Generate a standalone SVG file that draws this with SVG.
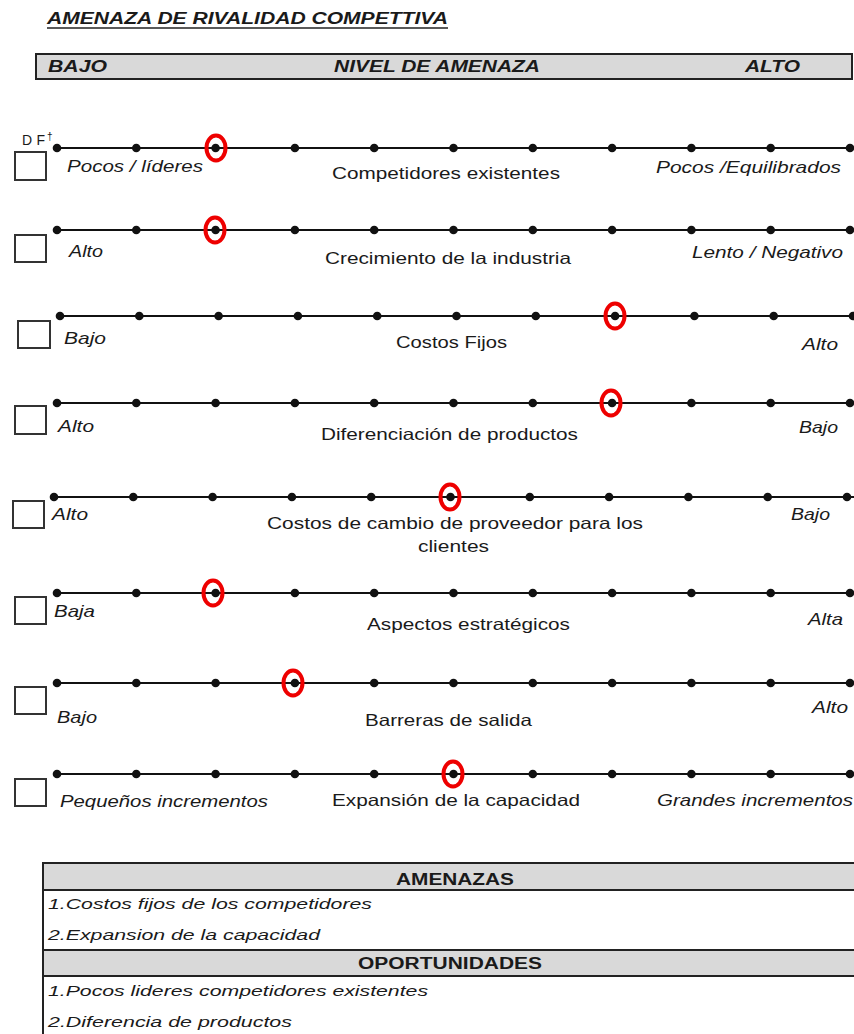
<svg xmlns="http://www.w3.org/2000/svg" width="854" height="1034" viewBox="0 0 854 1034">
<style>
text{font-family:"Liberation Sans",Arial,sans-serif;fill:#1a1a1a}
.it{font-style:italic;font-size:16.5px}
.md{font-size:16.5px}
.hb{font-weight:bold;font-style:italic;font-size:17px}
.tb{font-weight:bold;font-size:16px}
.ti{font-style:italic;font-size:15.5px}
.axis{stroke:#111;stroke-width:2}
.dot{fill:#111}
.sel{fill:none;stroke:#ee0000;stroke-width:4}
.box{fill:#fff;stroke:#333;stroke-width:2}
.gray{fill:#d9d9d9;stroke:#222;stroke-width:2}
</style>
<defs>
<g id="dots">
<circle cx="0" cy="0" r="4.3"/><circle cx="79.3" cy="0" r="4.3"/><circle cx="158.6" cy="0" r="4.3"/><circle cx="237.9" cy="0" r="4.3"/><circle cx="317.2" cy="0" r="4.3"/><circle cx="396.5" cy="0" r="4.3"/><circle cx="475.8" cy="0" r="4.3"/><circle cx="555.1" cy="0" r="4.3"/><circle cx="634.4" cy="0" r="4.3"/><circle cx="713.7" cy="0" r="4.3"/><circle cx="793" cy="0" r="4.3"/>
</g>
</defs>
<rect width="854" height="1034" fill="#fff"/>

<g id="title">
<text x="47" y="24" class="hb" style="font-size:16px" textLength="401" lengthAdjust="spacingAndGlyphs">AMENAZA DE RIVALIDAD COMPETTIVA</text>
<line x1="47" y1="28" x2="448" y2="28" stroke="#222" stroke-width="1.3"/>
</g>

<g id="header">
<rect x="36" y="54" width="816" height="25" class="gray"/>
<text x="48" y="72" class="hb" textLength="59" lengthAdjust="spacingAndGlyphs">BAJO</text>
<text x="334" y="72" class="hb" textLength="206" lengthAdjust="spacingAndGlyphs">NIVEL DE AMENAZA</text>
<text x="745" y="72" class="hb" textLength="55" lengthAdjust="spacingAndGlyphs">ALTO</text>
</g>

<g id="df">
<text x="22" y="145" style="font-size:14px" textLength="23" lengthAdjust="spacing">DF</text>
<text x="47" y="140" style="font-size:10px">†</text>
</g>

<g id="connectors">
<line x1="57" y1="148" x2="854" y2="148" class="axis"/>
<line x1="57" y1="230" x2="854" y2="230" class="axis"/>
<line x1="60" y1="316" x2="854" y2="316" class="axis"/>
<line x1="57" y1="403" x2="854" y2="403" class="axis"/>
<line x1="54" y1="497" x2="854" y2="497" class="axis"/>
<line x1="57" y1="593" x2="854" y2="593" class="axis"/>
<line x1="57" y1="683" x2="854" y2="683" class="axis"/>
<line x1="57" y1="774" x2="854" y2="774" class="axis"/>
</g>

<g id="row1">
<rect x="15" y="152" width="31" height="28" class="box"/>
<use href="#dots" x="57" y="148" class="dot"/>
<ellipse cx="216" cy="148" rx="9.5" ry="12.5" class="sel"/>
<text x="67" y="172" class="it" textLength="136" lengthAdjust="spacingAndGlyphs">Pocos / líderes</text>
<text x="332" y="179" class="md" textLength="228" lengthAdjust="spacingAndGlyphs">Competidores existentes</text>
<text x="656" y="173" class="it" textLength="185" lengthAdjust="spacingAndGlyphs">Pocos /Equilibrados</text>
</g>

<g id="row2">
<rect x="15" y="235" width="31" height="27" class="box"/>
<use href="#dots" x="57" y="230" class="dot"/>
<ellipse cx="215" cy="230" rx="9.5" ry="12.5" class="sel"/>
<text x="69" y="257" class="it" textLength="34" lengthAdjust="spacingAndGlyphs">Alto</text>
<text x="325" y="264" class="md" textLength="246" lengthAdjust="spacingAndGlyphs">Crecimiento  de la industria</text>
<text x="692" y="258" class="it" textLength="151" lengthAdjust="spacingAndGlyphs">Lento / Negativo</text>
</g>

<g id="row3">
<rect x="18" y="321" width="32" height="27" class="box"/>
<use href="#dots" x="60" y="316" class="dot"/>
<ellipse cx="615" cy="316" rx="9.5" ry="12.5" class="sel"/>
<text x="64" y="344" class="it" textLength="42" lengthAdjust="spacingAndGlyphs">Bajo</text>
<text x="396" y="348" class="md" textLength="111" lengthAdjust="spacingAndGlyphs">Costos Fijos</text>
<text x="802" y="350" class="it" textLength="36" lengthAdjust="spacingAndGlyphs">Alto</text>
</g>

<g id="row4">
<rect x="15" y="406" width="31" height="28" class="box"/>
<use href="#dots" x="57" y="403" class="dot"/>
<ellipse cx="611" cy="403" rx="9.5" ry="12.5" class="sel"/>
<text x="58" y="432" class="it" textLength="36" lengthAdjust="spacingAndGlyphs">Alto</text>
<text x="321" y="440" class="md" textLength="257" lengthAdjust="spacingAndGlyphs">Diferenciación  de productos</text>
<text x="799" y="433" class="it" textLength="39" lengthAdjust="spacingAndGlyphs">Bajo</text>
</g>

<g id="row5">
<rect x="13" y="501" width="31" height="27" class="box"/>
<use href="#dots" x="54" y="497" class="dot"/>
<ellipse cx="450" cy="497" rx="9.5" ry="12.5" class="sel"/>
<text x="52" y="520" class="it" textLength="36" lengthAdjust="spacingAndGlyphs">Alto</text>
<text x="267" y="529" class="md" textLength="376" lengthAdjust="spacingAndGlyphs">Costos de cambio de proveedor para los</text>
<text x="418" y="552" class="md" textLength="71" lengthAdjust="spacingAndGlyphs">clientes</text>
<text x="791" y="520" class="it" textLength="39" lengthAdjust="spacingAndGlyphs">Bajo</text>
</g>

<g id="row6">
<rect x="15" y="597" width="31" height="27" class="box"/>
<use href="#dots" x="57" y="593" class="dot"/>
<ellipse cx="213" cy="593" rx="9.5" ry="12.5" class="sel"/>
<text x="54" y="617" class="it" textLength="41" lengthAdjust="spacingAndGlyphs">Baja</text>
<text x="367" y="630" class="md" textLength="203" lengthAdjust="spacingAndGlyphs">Aspectos estratégicos</text>
<text x="808" y="625" class="it" textLength="35" lengthAdjust="spacingAndGlyphs">Alta</text>
</g>

<g id="row7">
<rect x="15" y="687" width="31" height="27" class="box"/>
<use href="#dots" x="57" y="683" class="dot"/>
<ellipse cx="293" cy="683" rx="9.5" ry="12.5" class="sel"/>
<text x="57" y="723" class="it" textLength="40" lengthAdjust="spacingAndGlyphs">Bajo</text>
<text x="365" y="726" class="md" textLength="167" lengthAdjust="spacingAndGlyphs">Barreras de salida</text>
<text x="812" y="713" class="it" textLength="36" lengthAdjust="spacingAndGlyphs">Alto</text>
</g>

<g id="row8">
<rect x="15" y="779" width="31" height="27" class="box"/>
<use href="#dots" x="57" y="774" class="dot"/>
<ellipse cx="453" cy="774" rx="9.5" ry="12.5" class="sel"/>
<text x="60" y="807" class="it" textLength="208" lengthAdjust="spacingAndGlyphs">Pequeños incrementos</text>
<text x="332" y="806" class="md" textLength="248" lengthAdjust="spacingAndGlyphs">Expansión de la capacidad</text>
<text x="657" y="806" class="it" textLength="196" lengthAdjust="spacingAndGlyphs">Grandes incrementos</text>
</g>

<g id="table">
<rect x="43" y="863" width="830" height="190" fill="#fff" stroke="#222" stroke-width="2"/>
<rect x="43" y="863" width="830" height="27" class="gray"/>
<rect x="43" y="950" width="830" height="26" class="gray"/>
<text x="455" y="885" class="tb" text-anchor="middle" textLength="118" lengthAdjust="spacingAndGlyphs">AMENAZAS</text>
<text x="48" y="909" class="ti" textLength="324" lengthAdjust="spacingAndGlyphs">1.Costos fijos de los competidores</text>
<text x="48" y="940" class="ti" textLength="272" lengthAdjust="spacingAndGlyphs">2.Expansion de la capacidad</text>
<text x="450" y="969" class="tb" text-anchor="middle" textLength="184" lengthAdjust="spacingAndGlyphs">OPORTUNIDADES</text>
<text x="48" y="996" class="ti" textLength="380" lengthAdjust="spacingAndGlyphs">1.Pocos lideres competidores existentes</text>
<text x="48" y="1027" class="ti" textLength="244" lengthAdjust="spacingAndGlyphs">2.Diferencia de productos</text>
</g>
</svg>
